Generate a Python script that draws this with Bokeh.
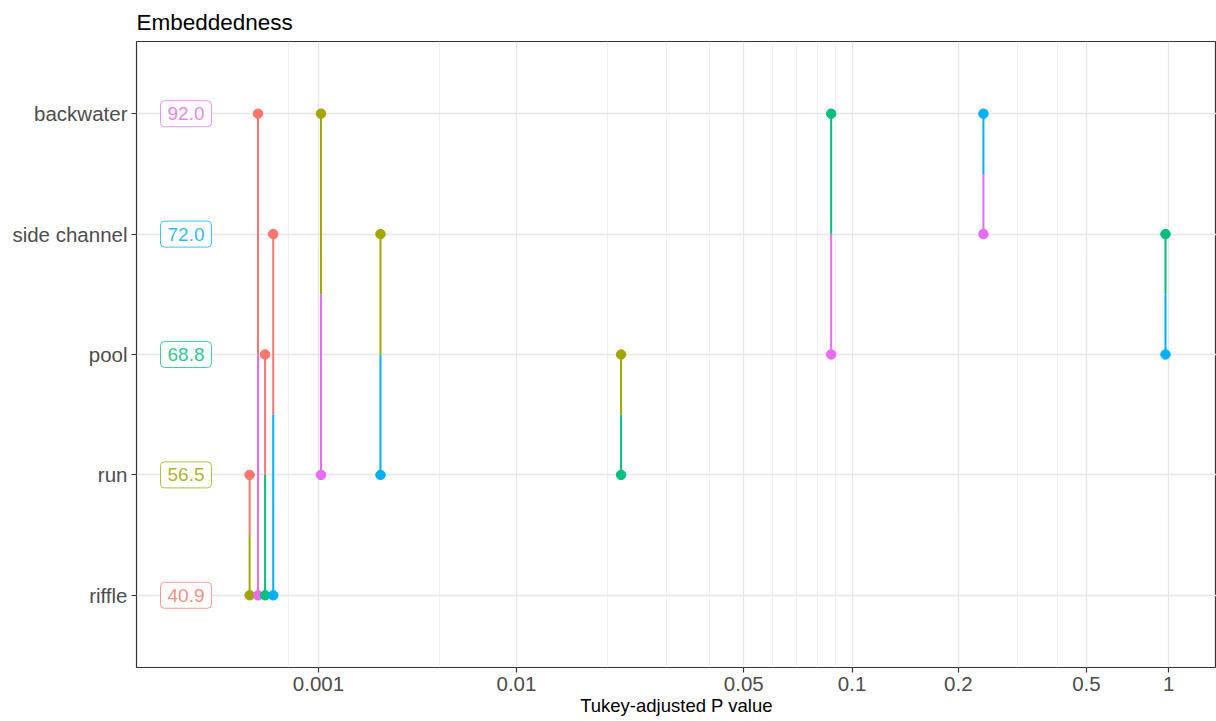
from math import erf, log10

from bokeh.embed import file_html
from bokeh.models import FixedTicker, Range1d, ColumnDataSource
from bokeh.plotting import figure
from bokeh.resources import INLINE
from bokeh.core.properties import value

# ---- data -------------------------------------------------------------
habitats = ["riffle", "run", "pool", "side channel", "backwater"]
habitat_means = [40.9, 56.5, 68.8, 72.0, 92.0]
habitat_colors = ["#F8766D", "#A3A500", "#00BF7D", "#00B0F6", "#E76BF3"]

# pairwise Tukey comparisons
group_a = ["riffle", "riffle", "riffle", "riffle", "run",
           "run", "run", "pool", "side channel", "pool"]
group_b = ["run", "backwater", "pool", "side channel", "backwater",
           "side channel", "pool", "backwater", "backwater", "side channel"]
p_adj = [6.8e-5, 1.4e-4, 2.1e-4, 3.0e-4, 1.05e-3,
         2.6e-3, 0.022, 0.0875, 0.237, 0.972]

major_breaks = [0.001, 0.01, 0.05, 0.1, 0.2, 0.5, 1]
major_labels = ["0.001", "0.01", "0.05", "0.1", "0.2", "0.5", "1"]
minor_breaks = [0.0005, 0.005, 0.02, 0.03, 0.04, 0.06, 0.07, 0.08, 0.09, 0.3, 0.4]

# ---- x warp: smooth sigmoid of log10(p) that spreads the 0.01-0.5 zone --
WARP_CENTER = -1.1
WARP_WIDTH = 1.8


def warp(p):
    return erf((log10(p) - WARP_CENTER) / WARP_WIDTH)


X_START, X_END = -1.1806, 0.6958
LABEL_X = -1.0946

FONT = "Liberation Sans"

ypos = {h: i + 1 for i, h in enumerate(habitats)}
col = dict(zip(habitats, habitat_colors))

# each comparison is drawn as two half-segments; the half touching a group's
# row takes the colour of the group it is compared with
seg = dict(x0=[], y0=[], x1=[], y1=[], color=[])
pts = dict(x=[], y=[], color=[])
for a, b, pv in zip(group_a, group_b, p_adj):
    x = warp(pv)
    ya, yb = ypos[a], ypos[b]
    mid = (ya + yb) / 2
    for here, other in ((a, b), (b, a)):
        seg["x0"].append(x)
        seg["y0"].append(ypos[here])
        seg["x1"].append(x)
        seg["y1"].append(mid)
        seg["color"].append(col[other])
        pts["x"].append(x)
        pts["y"].append(ypos[here])
        pts["color"].append(col[other])

p = figure(
    width=1216, height=721,
    x_range=Range1d(X_START, X_END), y_range=Range1d(0.4, 5.6),
    output_backend="svg", toolbar_location=None,
    min_border_left=136, min_border_right=0,
    min_border_top=41, min_border_bottom=54,
)
p.background_fill_color = "white"
p.border_fill_color = "white"
p.outline_line_color = "#333333"
p.outline_line_width = 1.2

# title
p.title.text = "Embeddedness"
p.title.text_font = FONT
p.title.text_font_size = "22.5px"
p.title.text_font_style = "normal"
p.title.text_color = "black"
p.title.align = "left"
p.title.standoff = 13

# x axis
xt = FixedTicker(ticks=[warp(v) for v in major_breaks],
                 minor_ticks=[warp(v) for v in minor_breaks])
p.xaxis.ticker = xt
p.xaxis.major_label_overrides = {warp(v): lab for v, lab in zip(major_breaks, major_labels)}
p.xaxis.axis_label = "Tukey-adjusted P value"
p.xaxis.axis_label_text_font = FONT
p.xaxis.axis_label_text_font_size = "18.5px"
p.xaxis.axis_label_text_font_style = "normal"
p.xaxis.axis_label_text_color = "black"
p.xaxis.axis_label_standoff = 1

# y axis
p.yaxis.ticker = FixedTicker(ticks=list(ypos.values()))
p.yaxis.major_label_overrides = {v: k for k, v in ypos.items()}

for ax in (p.xaxis, p.yaxis):
    ax.axis_line_color = None
    ax.major_tick_line_color = "#333333"
    ax.major_tick_line_width = 1.2
    ax.major_tick_out = 5
    ax.major_tick_in = 0
    ax.minor_tick_line_color = None
    ax.major_label_text_font = FONT
    ax.major_label_text_font_size = "20.5px"
    ax.major_label_text_color = "#4D4D4D"
    ax.major_label_standoff = 4

p.xgrid.grid_line_color = "#E6E6E6"
p.xgrid.grid_line_width = 1.3
p.xgrid.minor_grid_line_color = "#EBEBEB"
p.xgrid.minor_grid_line_width = 0.8
p.ygrid.grid_line_color = "#E6E6E6"
p.ygrid.grid_line_width = 1.3

p.segment(x0="x0", y0="y0", x1="x1", y1="y1", color="color", line_width=2,
          source=ColumnDataSource(seg))
p.scatter(x="x", y="y", color="color", size=9.5, source=ColumnDataSource(pts))

# group mean labels
lab = ColumnDataSource(dict(
    x=[LABEL_X] * len(habitats),
    y=[ypos[h] for h in habitats],
    text=[f"{m:.1f}" for m in habitat_means],
    color=habitat_colors,
))
p.rect(x="x", y="y", width=51, height=26, width_units="screen", height_units="screen",
       fill_color="white", line_color="color", line_alpha=0.75, line_width=1,
       border_radius=4, source=lab)
p.text(x="x", y="y", text="text", text_color="color", text_alpha=0.85,
       text_align="center", text_baseline="middle", text_font=value(FONT),
       text_font_size="19px", source=lab)

open("out.html", "w").write(file_html(p, INLINE))
